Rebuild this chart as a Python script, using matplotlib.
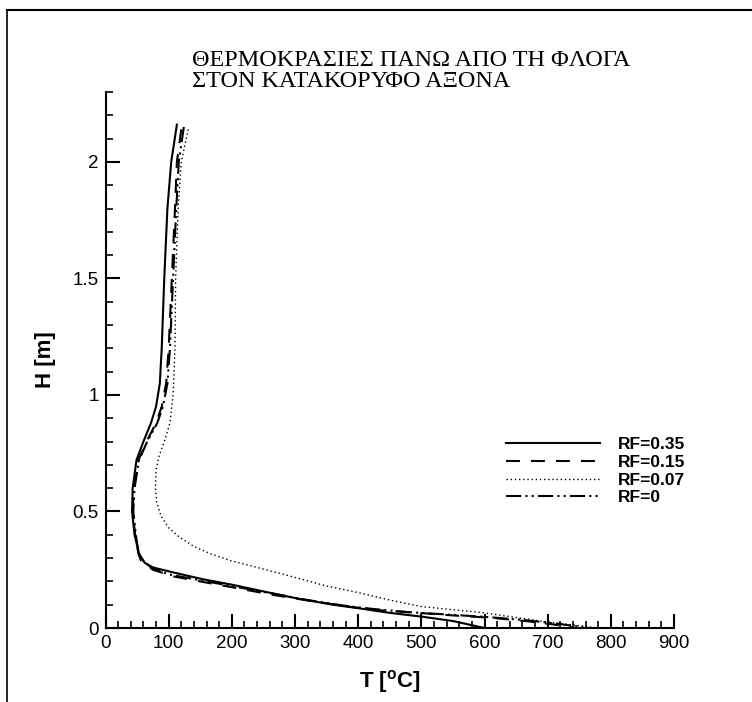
import matplotlib
matplotlib.use('Agg')
import matplotlib.pyplot as plt
from matplotlib.lines import Line2D

plt.rcParams['font.family'] = ['Liberation Sans', 'DejaVu Sans']
plt.rcParams['mathtext.fontset'] = 'custom'
plt.rcParams['mathtext.bf'] = 'Liberation Sans:bold'
plt.rcParams['mathtext.rm'] = 'Liberation Sans'
plt.rcParams['lines.scale_dashes'] = False

# temperature profiles along the vertical axis, H [m] vs T [C]
H_035 = [2.16, 2.00, 1.80, 1.50, 1.20, 1.05, 0.95, 0.88, 0.80, 0.72, 0.60, 0.50, 0.40, 0.32,
         0.28, 0.26, 0.24, 0.21, 0.186, 0.157, 0.127, 0.10, 0.085, 0.065, 0.049, 0.03, 0.0]
T_035 = [113, 104, 98, 93, 89, 86, 80, 72, 60, 49, 43, 42, 46, 53,
         62, 75, 105, 153, 200, 250, 303, 360, 400, 450, 500, 550, 600]

H_015 = [2.14, 2.00, 1.80, 1.50, 1.20, 1.05, 0.95, 0.88, 0.80, 0.72, 0.60, 0.50, 0.40, 0.32, 0.29,
         0.25, 0.22, 0.20, 0.17, 0.14, 0.114, 0.09, 0.075, 0.066, 0.054, 0.044, 0.03, 0.015, 0.0]
T_015 = [120, 113, 110, 105, 100, 96, 89, 80, 65, 52, 45, 43, 47, 52, 56,
         75, 110, 150, 210, 270, 330, 390, 440, 490, 550, 610, 665, 710, 745]

H_007 = [2.14, 2.00, 1.80, 1.50, 1.20, 1.00, 0.88, 0.80, 0.74, 0.68, 0.60, 0.54, 0.48, 0.43, 0.39,
         0.35, 0.32, 0.29, 0.26, 0.215, 0.18, 0.152, 0.12, 0.092, 0.066, 0.045, 0.027, 0.01, 0.0]
T_007 = [131, 120, 115, 111, 110, 107, 102, 93, 85, 80, 79, 81, 88, 100, 117,
         140, 165, 197, 240, 303, 350, 400, 450, 500, 597, 650, 697, 750, 780]

H_0 = [2.15, 2.00, 1.80, 1.50, 1.20, 1.05, 0.95, 0.88, 0.80, 0.72, 0.60, 0.50, 0.40, 0.33, 0.30,
       0.26, 0.23, 0.21, 0.18, 0.15, 0.12, 0.095, 0.08, 0.068, 0.058, 0.048, 0.035, 0.02, 0.006, 0.0]
T_0 = [124, 116, 112, 107, 102, 98, 91, 82, 66, 53, 46, 44, 48, 52, 55,
       72, 100, 140, 200, 260, 320, 380, 430, 480, 540, 600, 660, 710, 750, 765]

labels = ['RF=0.35', 'RF=0.15', 'RF=0.07', 'RF=0']
x_ticks = [0, 100, 200, 300, 400, 500, 600, 700, 800, 900]
y_ticks = [0, 0.5, 1, 1.5, 2]

fig = plt.figure(figsize=(7.52, 7.02), dpi=100)
ax = fig.add_axes([0.1403, 0.1054, 0.7560, 0.7635])

ax.plot(T_035, H_035, color='black', lw=1.5, ls='-', label=labels[0])
ax.plot(T_015, H_015, color='black', lw=1.5, ls=(0, (10, 8)), label=labels[1])
ax.plot(T_007, H_007, color='black', lw=1.0, ls=(0, (1, 2)), label=labels[2])
ax.plot(T_0, H_0, color='black', lw=1.5, ls=(0, (11, 3, 1.5, 3, 1.5, 3)), label=labels[3])

# axes in the tecplot style: only left and bottom lines, ticks inside
ax.set_xlim(0, 900)
ax.set_ylim(0, 2.3)
ax.set_xticks(x_ticks)
ax.set_yticks(y_ticks)
ax.set_yticklabels(['0', '0.5', '1', '1.5', '2'])
ax.set_xticks(range(0, 901, 20), minor=True)
ax.set_yticks([i / 10 for i in range(0, 24)], minor=True)
for s in ['top', 'right']:
    ax.spines[s].set_visible(False)
for s in ['left', 'bottom']:
    ax.spines[s].set_linewidth(1.5)
ax.tick_params(which='major', direction='in', length=10, width=1.5, labelsize=13.5, pad=5)
ax.tick_params(which='minor', direction='in', length=5, width=1.2)

ax.set_xlabel(r'T [$^{\mathbf{o}}$C]', fontsize=16, fontweight='bold', va='center')
ax.set_ylabel('H [m]', fontsize=16, fontweight='bold', va='center')
ax.xaxis.set_label_coords(0.5, -0.1007)
ax.yaxis.set_label_coords(-0.1064, 0.5)

leg = ax.legend(loc='upper left', bbox_to_anchor=(506 / 752, 1 - 437 / 702),
                bbox_transform=fig.transFigure, frameon=False, handlelength=5.4,
                handletextpad=1.05, labelspacing=0.15, borderpad=0, borderaxespad=0,
                prop={'weight': 'bold', 'size': 12.5, 'family': 'Liberation Sans'})

# title in two lines, serif
fig.text(192 / 752, 1 - 66 / 702, 'ΘΕΡΜΟΚΡΑΣΙΕΣ ΠΑΝΩ ΑΠΟ ΤΗ ΦΛΟΓΑ', fontsize=17.4,
         family=['Liberation Serif', 'DejaVu Serif'], va='baseline', ha='left')
fig.text(192 / 752, 1 - 87 / 702, 'ΣΤΟΝ ΚΑΤΑΚΟΡΥΦΟ ΑΞΟΝΑ', fontsize=17.4,
         family=['Liberation Serif', 'DejaVu Serif'], va='baseline', ha='left')

# frame lines on top and left of the picture
fig.add_artist(Line2D([7 / 752, 1], [1 - 10 / 702, 1 - 10 / 702], color='black', lw=1.5,
                      transform=fig.transFigure))
fig.add_artist(Line2D([7 / 752, 7 / 752], [0, 1 - 10 / 702], color='black', lw=1.2,
                      transform=fig.transFigure))

fig.savefig('out.png', dpi=100)
